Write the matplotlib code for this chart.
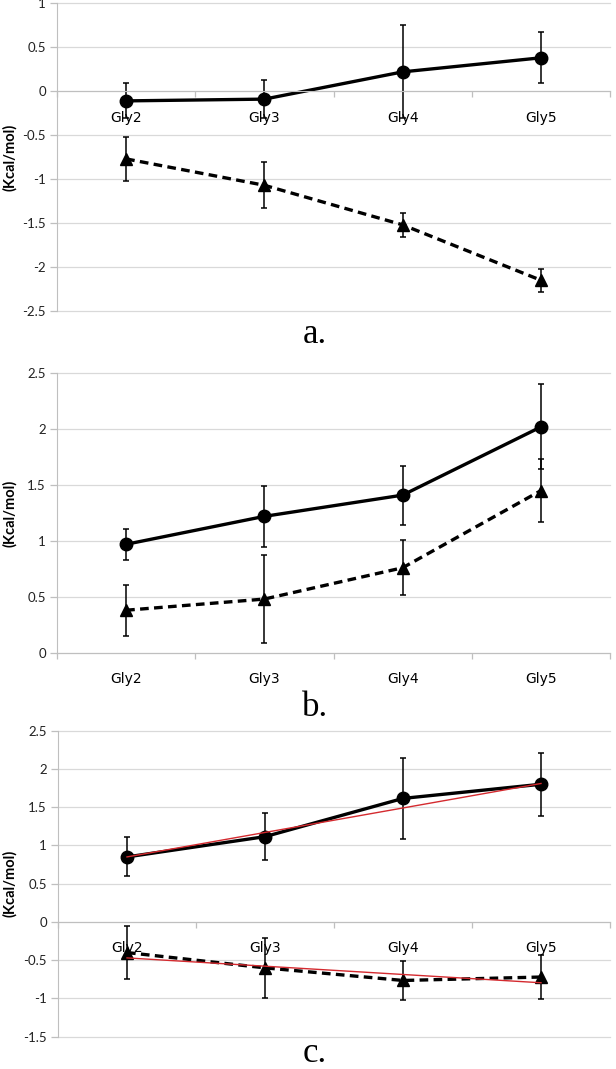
"""Three stacked panels (a, b, c): energy per glycine repeat, two series each,
with error bars; panel c also carries linear trend lines in red.

Output: out.png (616 x 1069 px)
"""

import numpy as np
import matplotlib.pyplot as plt

CATEGORIES = ['Gly2', 'Gly3', 'Gly4', 'Gly5']

# panel a
A_CIRCLE = [-0.11, -0.09, 0.22, 0.38]
A_CIRCLE_ERR = [0.20, 0.22, 0.53, 0.29]
A_TRIANGLE = [-0.77, -1.07, -1.52, -2.15]
A_TRIANGLE_ERR = [0.25, 0.26, 0.14, 0.13]

# panel b
B_CIRCLE = [0.97, 1.22, 1.41, 2.02]
B_CIRCLE_ERR = [0.14, 0.27, 0.265, 0.38]
B_TRIANGLE = [0.38, 0.48, 0.76, 1.45]
B_TRIANGLE_ERR = [0.23, 0.39, 0.245, 0.28]

# panel c
C_CIRCLE = [0.85, 1.115, 1.615, 1.80]
C_CIRCLE_ERR = [0.255, 0.31, 0.525, 0.41]
C_TRIANGLE = [-0.40, -0.60, -0.765, -0.72]
C_TRIANGLE_ERR = [0.35, 0.39, 0.26, 0.29]
# red trend lines, read at Gly2 and Gly5
C_TREND_CIRCLE = [0.85, 1.81]
C_TREND_TRIANGLE = [-0.47, -0.795]

W, H = 616, 1069
DPI = 100
GRID = '#d9d9d9'
SPINE = '#bfbfbf'
TICK_FONT = 'Lato'


def frac_box(top_px, bottom_px, left_px=57, right_px=610):
    return [left_px / W, 1 - bottom_px / H,
            (right_px - left_px) / W, (bottom_px - top_px) / H]


def draw_panel(ax, circle, circle_err, tri, tri_err, ylim, yticks):
    x = np.arange(1, len(CATEGORIES) + 1)
    ax.set_axisbelow(True)

    ax.errorbar(x, circle, yerr=circle_err, fmt='o-', color='black',
                ms=9, lw=2.4, elinewidth=1.1, capsize=2.5, capthick=1.1)
    ax.errorbar(x, tri, yerr=tri_err, fmt='^', color='black',
                ms=9, elinewidth=1.1, capsize=2.5, capthick=1.1)
    ax.plot(x, tri, color='black', lw=2.4, ls=(0, (2.6, 1.6)))

    ax.set_xlim(0.5, len(CATEGORIES) + 0.5)
    ax.set_ylim(*ylim)
    ax.set_yticks(yticks)
    ax.set_yticklabels([f'{v:g}' for v in yticks], fontfamily=TICK_FONT,
                       fontsize=9.5, color='#222222')
    ax.yaxis.grid(True, color=GRID, lw=0.9)
    for line in ax.get_ygridlines():
        line.set_clip_on(False)
    ax.tick_params(axis='y', length=5, color=SPINE, width=0.9, pad=3)

    # category boundaries get the tick marks, centres get the labels
    ax.set_xticks(np.arange(0.5, len(CATEGORIES) + 1, 1.0))
    ax.set_xticklabels([])
    ax.tick_params(axis='x', which='major', length=4, color=SPINE, width=0.9)
    ax.set_xticks(x, minor=True)
    ax.set_xticklabels(CATEGORIES, minor=True, fontfamily=TICK_FONT,
                       fontsize=9.5, color='#222222')
    ax.tick_params(axis='x', which='minor', length=0, pad=14)

    ax.spines['bottom'].set_position(('data', 0))
    ax.spines['bottom'].set_color(SPINE)
    ax.spines['left'].set_color(SPINE)
    for side in ('top', 'right'):
        ax.spines[side].set_visible(False)
    return x


fig = plt.figure(figsize=(W / DPI, H / DPI), dpi=DPI)

ax_a = fig.add_axes(frac_box(3.3, 311))
draw_panel(ax_a, A_CIRCLE, A_CIRCLE_ERR, A_TRIANGLE, A_TRIANGLE_ERR,
           (-2.5, 1), np.arange(-2.5, 1.01, 0.5))

ax_b = fig.add_axes(frac_box(373.3, 652.7))
draw_panel(ax_b, B_CIRCLE, B_CIRCLE_ERR, B_TRIANGLE, B_TRIANGLE_ERR,
           (0, 2.5), np.arange(0, 2.51, 0.5))

ax_c = fig.add_axes(frac_box(730.7, 1036.7, left_px=58))
xc = draw_panel(ax_c, C_CIRCLE, C_CIRCLE_ERR, C_TRIANGLE, C_TRIANGLE_ERR,
                (-1.5, 2.5), np.arange(-1.5, 2.51, 0.5))
ends = [xc[0], xc[-1]]
ax_c.plot(ends, C_TREND_CIRCLE, color='#d42a2f', lw=1.0, zorder=5)
ax_c.plot(ends, C_TREND_TRIANGLE, color='#d42a2f', lw=1.0, zorder=5)

for ax in (ax_a, ax_b, ax_c):
    pos = ax.get_position()
    fig.text(9.5 / W, pos.y0 + pos.height / 2, '(Kcal/mol)', rotation=90,
             ha='center', va='center', fontsize=10.5, fontweight='bold',
             fontfamily=TICK_FONT)

for label, base_px in [('a.', 343), ('b.', 716), ('c.', 1062)]:
    fig.text(315 / W, 1 - base_px / H, label, ha='center', va='baseline',
             fontsize=25, fontfamily='Liberation Serif')

fig.savefig('out.png', dpi=DPI, facecolor='white')
